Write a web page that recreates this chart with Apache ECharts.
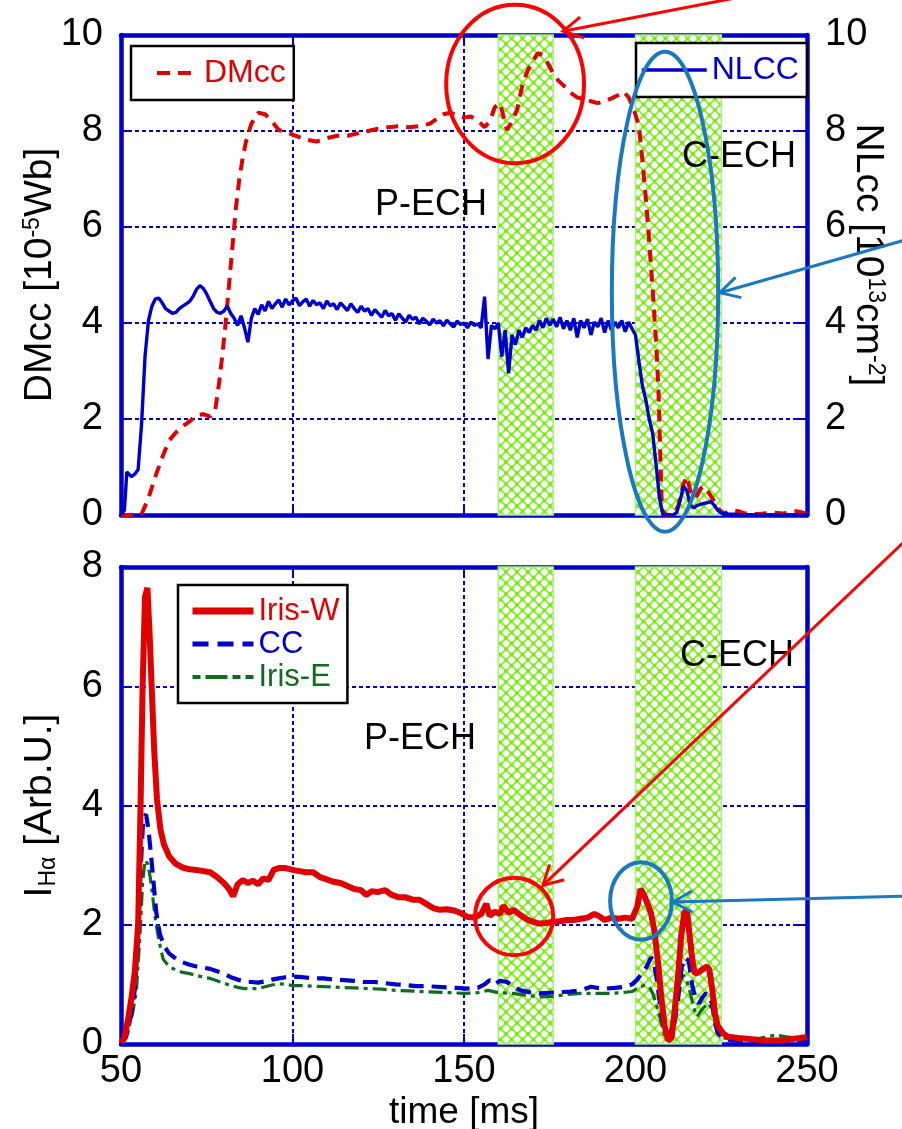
<!DOCTYPE html>
<html><head><meta charset="utf-8">
<script src="https://cdn.jsdelivr.net/npm/echarts@6/dist/echarts.min.js"></script>
<style>html,body{margin:0;padding:0;background:#fff}#c{width:902px;height:1129px}</style>
</head><body><div id="c"></div>
<script>
// ---------------- data ----------------
const xTicks = [50, 100, 150, 200, 250];
const echWindows = [[160, 176], [200, 225]];

const dmcc = [[50,0],[52,0],[56,0.02],[58,0.35],[60,0.8],[62,1.2],[64,1.55],[66,1.72],[68,1.85],[70,1.95],[72,2.08],[74,2.1],[76,2.05],[77.5,2.2],[78.5,2.7],[79.5,3.3],[80.5,4.0],[81.5,4.8],[82.5,5.6],[83.5,6.4],[84.5,7.0],[85.5,7.45],[86.5,7.8],[88,8.15],[90,8.38],[92,8.35],[94,8.2],[96,8.02],[98,7.98],[101,7.9],[104,7.82],[107,7.78],[110,7.85],[113,7.9],[116,7.9],[119,7.95],[122,8.0],[125,8.05],[128,8.08],[131,8.1],[134,8.08],[137,8.1],[140,8.15],[142,8.25],[144,8.35],[146,8.38],[148,8.33],[150,8.28],[152,8.3],[154,8.22],[156,8.08],[157.5,8.2],[159,8.5],[160.5,8.58],[161.5,8.3],[162.5,8.02],[164,8.2],[165.5,8.45],[167,8.95],[168.5,9.25],[170,9.45],[171.5,9.62],[173,9.58],[174.5,9.4],[176,9.2],[177.5,9.05],[179,8.95],[181,8.8],[183,8.7],[185,8.66],[187,8.62],[189,8.58],[191,8.62],[193,8.68],[195,8.75],[196.5,8.82],[198,8.7],[199.5,8.45],[201,8.1],[202,7.4],[203,6.6],[204,5.7],[205,4.7],[206,3.6],[206.7,2.6],[207.2,1.3],[207.7,0.1],[209,0],[211,0],[212.5,0.2],[214,0.65],[215,0.8],[216,0.5],[217.5,0.35],[219,0.55],[220,0.6],[221.5,0.45],[223,0.28],[224.5,0.1],[226,0.03],[228,0.1],[230,0.08],[232,0.03],[236,0.02],[240,0.05],[243,0.03],[247,0.08],[250,0.03]];

const nlcc = [[50,0],[51,0.1],[51.7,0.9],[53,0.8],[54,0.85],[55,0.95],[56,1.9],[57,3.3],[58,4.05],[59,4.35],[60,4.5],[61,4.52],[62,4.42],[63,4.3],[64,4.25],[65,4.2],[66,4.22],[67,4.3],[68,4.35],[69,4.4],[70,4.45],[71,4.55],[72,4.7],[73,4.78],[74,4.72],[75,4.6],[76,4.45],[77,4.3],[78,4.22],[79,4.2],[80,4.25],[81,4.35],[82,4.2],[83,4.1],[84,3.95],[85,4.15],[86,3.9],[87,3.6],[88,4.1],[89,4.3],[90,4.18],[91,4.38],[92,4.25],[93,4.45],[94,4.3],[95,4.4],[96,4.48],[97,4.33],[98,4.5],[99,4.38],[100,4.46],[101,4.52],[102,4.36],[103,4.44],[104,4.5],[105,4.35],[106,4.47],[107,4.38],[108,4.42],[109,4.3],[110,4.46],[111,4.36],[112,4.4],[113,4.28],[114,4.42],[115,4.34],[116,4.26],[117,4.4],[118,4.3],[119,4.22],[120,4.35],[121,4.25],[122,4.3],[123,4.16],[124,4.28],[125,4.2],[126,4.12],[127,4.26],[128,4.15],[129,4.2],[130,4.06],[131,4.19],[132,4.1],[133,4.02],[134,4.16],[135,4.08],[136,4.12],[137,3.98],[138,4.1],[139,4.04],[140,3.96],[141,4.08],[142,4.0],[143,4.05],[144,3.94],[145,4.06],[146,3.98],[147,3.92],[148,4.04],[149,3.97],[150,4.0],[151,3.9],[152,4.02],[153,3.95],[154,3.98],[155,3.9],[156,4.55],[157,3.25],[158,3.95],[159,3.88],[160,4.0],[161,3.3],[162,3.85],[163,2.95],[164,3.75],[165,3.55],[166,3.85],[167,3.7],[168,3.9],[169,3.8],[170,3.95],[171,3.85],[172,4.05],[173,3.9],[174,4.1],[175,3.95],[176,4.08],[177,3.92],[178,4.12],[179,3.88],[180,4.05],[181,3.85],[182,4.1],[183,3.7],[184,4.05],[185,3.9],[186,4.08],[187,3.75],[188,4.02],[189,3.92],[190,4.1],[191,3.8],[192,4.05],[193,3.85],[194,4.02],[195,3.9],[196,4.05],[197,3.82],[198,4.02],[199,3.88],[200,3.75],[201,3.2],[202,2.7],[203,2.4],[204,2.0],[205,1.7],[206,1.05],[207,0.35],[208,0],[209,0],[210,0],[211,0],[212,0.05],[213,0.3],[214,0.6],[215,0.5],[216,0.2],[217,0.15],[218,0.2],[219,0.22],[220,0.24],[221,0.26],[222,0.28],[223,0.2],[224,0.1],[225,0.04],[227,0.02],[230,0.01],[235,0],[240,0],[245,0],[250,0]];

const irisW = [[50,0.02],[51,0.1],[52,0.4],[53,0.75],[54,1.2],[55,2.0],[55.7,4.0],[56.3,6.0],[57,7.5],[57.7,7.65],[58.4,6.8],[59,5.9],[59.7,4.9],[60.5,4.1],[61.5,3.6],[62.5,3.35],[64,3.15],[66,3.02],[68,2.96],[70,2.93],[72,2.92],[74,2.9],[76,2.88],[78,2.8],[80,2.7],[81.5,2.6],[82.7,2.48],[84,2.68],[85.5,2.75],[87,2.7],[88.5,2.74],[90,2.68],[91.5,2.78],[93,2.75],[94.5,2.92],[96,2.95],[98,2.95],[100,2.92],[102,2.9],[104,2.88],[106,2.88],[108,2.8],[110,2.76],[112,2.72],[114,2.7],[116,2.65],[118,2.6],[120,2.58],[121.5,2.5],[123,2.56],[125,2.55],[127,2.58],[129,2.5],[131,2.46],[133,2.46],[135,2.42],[137,2.42],[139,2.35],[141,2.28],[143,2.25],[145,2.26],[147,2.24],[149,2.2],[151,2.13],[153,2.12],[155,2.18],[156.5,2.35],[157.5,2.15],[159,2.22],[160.5,2.18],[161.5,2.32],[163,2.2],[164.5,2.25],[166,2.18],[168,2.1],[170,2.05],[172,2.02],[174,2.03],[176,2.05],[178,2.06],[180,2.08],[182,2.08],[184,2.1],[186,2.12],[188,2.18],[189.5,2.14],[191,2.08],[193,2.12],[195,2.1],[197,2.12],[199,2.1],[200.5,2.3],[201.5,2.6],[202.5,2.5],[203.5,2.35],[204.5,2.2],[205.5,1.9],[206.5,1.4],[207.5,0.8],[208.5,0.3],[209.5,0.06],[210.5,0.1],[211.5,0.6],[212.5,1.2],[213.3,1.8],[214.2,2.2],[215,2.25],[215.8,1.8],[216.6,1.4],[217.3,1.18],[218.3,1.2],[219.5,1.25],[220.8,1.3],[221.5,1.25],[222.3,0.95],[223.2,0.5],[224,0.3],[225.5,0.18],[227,0.12],[230,0.1],[234,0.08],[238,0.06],[242,0.06],[245,0.08],[248,0.1],[250,0.12]];

const cc = [[50,0.02],[51.5,0.12],[53,0.5],[54,0.9],[55,1.8],[55.8,3.0],[56.5,3.8],[57.3,3.85],[58,3.6],[58.7,3.2],[59.5,2.7],[60.3,2.2],[61.3,1.85],[62.5,1.65],[64,1.52],[66,1.43],[68,1.37],[70,1.33],[72,1.3],[74,1.28],[76,1.26],[78,1.22],[80,1.18],[82,1.12],[84,1.08],[86,1.05],[88,1.04],[90,1.03],[92,1.05],[94,1.08],[96,1.1],[98,1.12],[100,1.13],[103,1.12],[106,1.1],[109,1.1],[112,1.08],[115,1.07],[118,1.06],[121,1.04],[124,1.04],[127,1.02],[130,1.0],[133,0.99],[136,0.97],[139,0.97],[142,0.96],[145,0.95],[148,0.94],[151,0.93],[154,0.94],[156,1.0],[157.5,1.07],[159,1.0],[160.5,1.06],[162.5,1.04],[164.5,0.96],[166.5,0.9],[169,0.87],[172,0.85],[175,0.86],[178,0.87],[181,0.88],[184,0.9],[187,0.96],[189,0.94],[191.5,0.93],[194,0.94],[197,0.96],[199,1.0],[200.5,1.08],[202,1.2],[203.3,1.3],[204.5,1.45],[205.3,1.4],[206.3,1.05],[207.3,0.6],[208.3,0.28],[209.5,0.08],[210.5,0.1],[211.5,0.4],[212.5,0.8],[213.5,1.3],[214.5,1.45],[215.5,1.4],[216.5,1.0],[217.5,0.75],[218.5,0.68],[219.5,0.78],[220.5,0.85],[221.5,0.8],[222.3,0.68],[223.2,0.35],[224,0.18],[225.5,0.1],[228,0.06],[232,0.05],[236,0.04],[240,0.04],[244,0.05],[248,0.05],[250,0.05]];

const irisE = [[50,0.02],[52,0.2],[53.5,0.55],[54.5,0.9],[55.5,1.8],[56.3,2.7],[57,3.08],[57.8,3.02],[58.5,2.8],[59.2,2.5],[60,2.1],[61,1.75],[62.3,1.42],[64,1.3],[66,1.24],[68,1.2],[70,1.18],[72,1.15],[74,1.12],[76,1.1],[78,1.06],[80,1.02],[82,0.98],[84,0.95],[86,0.93],[88,0.93],[90,0.93],[92,0.96],[94,0.99],[96,1.01],[98,1.0],[100,0.98],[103,0.98],[106,0.97],[110,0.96],[114,0.95],[118,0.94],[122,0.93],[126,0.92],[130,0.9],[134,0.89],[138,0.88],[142,0.87],[146,0.86],[150,0.85],[154,0.86],[157,0.9],[160,0.86],[164,0.85],[168,0.82],[172,0.79],[176,0.8],[180,0.83],[184,0.85],[188,0.85],[192,0.85],[196,0.86],[199,0.88],[201,0.95],[202.5,0.98],[204,0.96],[205,0.85],[206,0.68],[207.3,0.4],[208.5,0.12],[209.5,0.07],[210.5,0.3],[211.5,0.72],[212.5,0.95],[213.9,1.16],[215,1.05],[216,0.85],[217,0.6],[218,0.46],[219,0.55],[220,0.62],[221.5,0.68],[222.5,0.55],[223.5,0.3],[224.5,0.15],[226,0.1],[230,0.08],[235,0.08],[238,0.12],[241,0.15],[244,0.12],[247,0.1],[250,0.08]];

// annotation anchors in data units: [grid, t, v, text]
const phaseLabels = [[0,140.4,6.46,'P-ECH'],[0,230.2,7.46,'C-ECH'],[1,137.2,5.11,'P-ECH'],[1,229.6,6.5,'C-ECH']];
// ellipses: [grid, t, v, half-width (ms), half-height (units), color]
const ellipses = [[0,164.9,8.98,20.1,1.65,'#ff0000'],[0,208.6,4.65,15.5,5.0,'#1a78bf'],[1,164.6,2.14,11.4,0.65,'#ff0000'],[1,201.6,2.4,9.0,0.65,'#1a78bf']];
// arrows: [grid, fromT, fromV, toT, toV, color]
const arrows = [[0,229.0,10.77,178.9,10.08,'#ff0000'],[0,278.6,5.73,224.6,4.63,'#1a78bf'],[1,278.6,8.44,173.0,2.66,'#ff0000'],[1,278.6,2.48,210.9,2.38,'#1a78bf']];

// ---------------- style ----------------
const FONT = '"Liberation Sans", Arial, sans-serif';
const BLUE = '#0000cc', RED = '#e00000', GREEN = '#106b1e';

function makeHatch() {
  const s = 11, c = document.createElement('canvas');
  c.width = s; c.height = s;
  const g = c.getContext('2d');
  g.fillStyle = '#ffffff'; g.fillRect(0, 0, s, s);
  g.strokeStyle = '#84f22a'; g.lineWidth = 1.6;
  g.beginPath(); g.moveTo(0, 0); g.lineTo(s, s); g.moveTo(s, 0); g.lineTo(0, s); g.stroke();
  g.fillStyle = '#76ee0c';
  const q = 3.6;
  g.fillRect(s / 2 - q / 2, s / 2 - q / 2, q, q);
  [[0,0],[s,0],[0,s],[s,s]].forEach(p => g.fillRect(p[0] - q / 2, p[1] - q / 2, q, q));
  return c;
}
const hatch = { image: makeHatch(), repeat: 'repeat' };
const markAreaCfg = {
  silent: true,
  itemStyle: { color: hatch, borderColor: '#a8f080', borderWidth: 1.5, opacity: 1 },
  data: echWindows.map(w => [{ xAxis: w[0] }, { xAxis: w[1] }])
};

const grids = [
  { left: 121, right: 95, top: 35, height: 480, outerBoundsMode: 'none', containLabel: false },
  { left: 121, right: 95, top: 567, height: 477, outerBoundsMode: 'none', containLabel: false }
];
const axisLine = { show: true, onZero: false, lineStyle: { color: BLUE, width: 4.5 } };
const tick = { show: true, inside: true, length: 10, lineStyle: { color: BLUE, width: 2 } };
const split = { show: true, lineStyle: { color: BLUE, width: 2, type: [4, 3] } };
const tickLabel = { color: '#000', fontSize: 38, fontFamily: FONT };

function xAx(grid, pos, labels, splitOn) {
  return { type: 'value', gridIndex: grid, position: pos, min: 50, max: 250, interval: 50,
    axisLine, axisTick: tick, splitLine: splitOn ? split : { show: false },
    axisLabel: labels ? Object.assign({ margin: 9 }, tickLabel) : { show: false },
    name: labels ? 'time [ms]' : '', nameLocation: 'middle', nameGap: 50, nameMoveOverlap: false,
    nameTextStyle: { fontSize: 37, fontFamily: FONT, color: '#000' } };
}
function yAx(grid, pos, max, labels, splitOn, name, rot, gap, pad) {
  return { type: 'value', gridIndex: grid, position: pos, min: 0, max: max, interval: 2,
    axisLine, axisTick: tick, splitLine: splitOn ? split : { show: false },
    axisLabel: labels ? Object.assign({ margin: 18 }, tickLabel) : { show: false },
    name: name || '', nameLocation: 'middle', nameRotate: rot, nameGap: gap, nameMoveOverlap: false,
    nameTextStyle: { fontSize: 39, fontFamily: FONT, color: '#000', padding: pad || 0,
      rich: { sup: { fontSize: 23, verticalAlign: 'top', fontFamily: FONT, color: '#000' },
              sub: { fontSize: 23, verticalAlign: 'bottom', fontFamily: FONT, color: '#000' } } } };
}

const legendBase = { backgroundColor: '#fff', borderColor: '#000', borderWidth: 2.5, borderRadius: 0,
  itemHeight: 14, textStyle: { fontSize: 32, fontFamily: FONT }, selectedMode: false,
  itemStyle: { opacity: 0, borderWidth: 0 } };

const option = {
  animation: false,
  backgroundColor: '#fff',
  grid: grids,
  xAxis: [xAx(0, 'bottom', false, true), xAx(0, 'top', false, false), xAx(1, 'bottom', true, true), xAx(1, 'top', false, false)],
  yAxis: [
    yAx(0, 'left', 10, true, true, 'DMcc [10{sup|-5}Wb]', 90, 61),
    yAx(0, 'right', 10, true, false, 'NLcc [10{sup|13}cm{sup|-2}]', -90, 41, [0, 40, 0, 0]),
    yAx(1, 'left', 8, true, true, 'I{sub|Hα} [Arb.U.]', 90, 61),
    yAx(1, 'right', 8, false, false, '', 0, 0)
  ],
  legend: [
    Object.assign({}, legendBase, { left: 131, top: 46, itemWidth: 42, padding: [11, 8, 11, 24],
      data: [{ name: 'DMcc', textStyle: { color: RED }, lineStyle: { color: RED, width: 4, type: [13, 8] } }] }),
    Object.assign({}, legendBase, { left: 636, top: 43, itemWidth: 65, padding: [11, 8, 11, 4],
      data: [{ name: 'NLCC', textStyle: { color: BLUE }, lineStyle: { color: BLUE, width: 3.5 } }] }),
    Object.assign({}, legendBase, { left: 178, top: 585, orient: 'vertical', itemWidth: 61, itemGap: 1,
      padding: [10, 8, 10, 11], textStyle: { fontSize: 31, fontFamily: FONT, lineHeight: 32 },
      data: [{ name: 'Iris-W', textStyle: { color: RED }, lineStyle: { color: RED, width: 7 } },
             { name: 'CC', textStyle: { color: BLUE }, lineStyle: { color: BLUE, width: 5, type: [16, 9] } },
             { name: 'Iris-E', textStyle: { color: GREEN }, lineStyle: { color: GREEN, width: 4, type: [8, 5, 22, 5] } }] })
  ],
  series: [
    { name: 'DMcc', type: 'line', xAxisIndex: 0, yAxisIndex: 0, data: dmcc, symbol: 'none', z: 3,
      lineStyle: { color: RED, width: 4, type: [12, 8] }, itemStyle: { color: RED }, markArea: markAreaCfg },
    { name: 'NLCC', type: 'line', xAxisIndex: 0, yAxisIndex: 1, data: nlcc, symbol: 'none', z: 4,
      lineStyle: { color: BLUE, width: 3.4 }, itemStyle: { color: BLUE } },
    { name: 'Iris-E', type: 'line', xAxisIndex: 2, yAxisIndex: 2, data: irisE, symbol: 'none', z: 3,
      lineStyle: { color: GREEN, width: 3.2, type: [14, 5, 4, 5] }, itemStyle: { color: GREEN }, markArea: markAreaCfg },
    { name: 'CC', type: 'line', xAxisIndex: 2, yAxisIndex: 2, data: cc, symbol: 'none', z: 4,
      lineStyle: { color: BLUE, width: 4.2, type: [15, 8] }, itemStyle: { color: BLUE } },
    { name: 'Iris-W', type: 'line', xAxisIndex: 2, yAxisIndex: 2, data: irisW, symbol: 'none', z: 5,
      lineStyle: { color: RED, width: 6 }, itemStyle: { color: RED } }
  ]
};

const chart = echarts.init(document.getElementById('c'), null, { renderer: 'canvas' });
chart.setOption(option);

// ---------------- annotations (positioned through the chart's own scales) ----------------
function px(grid, t, v) {
  return chart.convertToPixel({ xAxisIndex: grid * 2, yAxisIndex: grid * 2 }, [t, v]);
}
const graphics = [];
phaseLabels.forEach(a => {
  const p = px(a[0], a[1], a[2]);
  graphics.push({ type: 'text', x: p[0], y: p[1], z: 50,
    style: { text: a[3], fontSize: 36, fontFamily: FONT, fill: '#000', align: 'center', verticalAlign: 'middle' } });
});
ellipses.forEach(e => {
  const c = px(e[0], e[1], e[2]);
  const cx = px(e[0], e[1] + e[3], e[2]);
  const cy = px(e[0], e[1], e[2] + e[4]);
  graphics.push({ type: 'ellipse', z: 60,
    shape: { cx: c[0], cy: c[1], rx: Math.abs(cx[0] - c[0]), ry: Math.abs(c[1] - cy[1]) },
    style: { fill: 'none', stroke: e[5], lineWidth: 4 } });
});
arrows.forEach(a => {
  const s = px(a[0], a[1], a[2]);
  const e = px(a[0], a[3], a[4]);
  const ang = Math.atan2(s[1] - e[1], s[0] - e[0]);
  const L = 22, h = 0.5;
  const p1 = [e[0] + L * Math.cos(ang + h), e[1] + L * Math.sin(ang + h)];
  const p2 = [e[0] + L * Math.cos(ang - h), e[1] + L * Math.sin(ang - h)];
  graphics.push({ type: 'polyline', z: 60, shape: { points: [s, e] }, style: { stroke: a[5], lineWidth: 3, fill: 'none' } });
  graphics.push({ type: 'polyline', z: 60, shape: { points: [p1, e, p2] }, style: { stroke: a[5], lineWidth: 3, fill: 'none' } });
});
chart.setOption({ graphic: graphics });
</script>
</body></html>
